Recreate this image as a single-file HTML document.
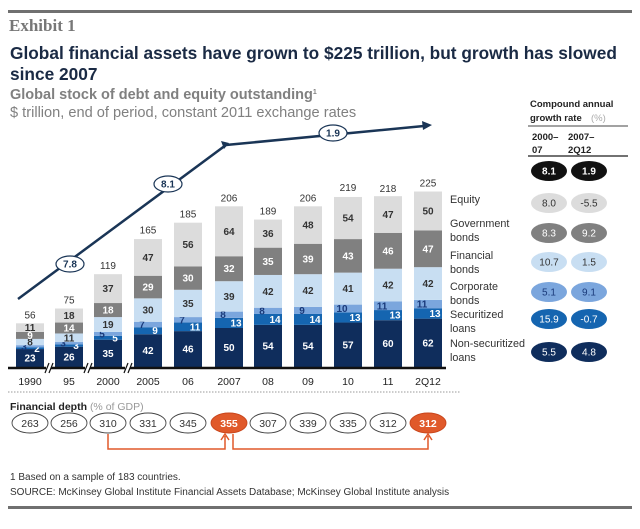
<!DOCTYPE html>
<html><head><meta charset="utf-8">
<style>
html,body{margin:0;padding:0;background:#fff;}
body{width:640px;height:524px;overflow:hidden;font-family:"Liberation Sans",Arial,sans-serif;}
svg text{font-family:"Liberation Sans",Arial,sans-serif;}
</style></head>
<body>
<svg id="chart" width="640" height="524" viewBox="0 0 640 524">
<rect x="8" y="10" width="624" height="3" fill="#707070"/>
<text x="9" y="31" font-size="17" font-weight="bold" fill="#777" style="font-family:'Liberation Serif',serif">Exhibit 1</text>
<text x="10" y="59" font-size="17.3" font-weight="bold" fill="#1a2a44">Global financial assets have grown to $225 trillion, but growth has slowed</text>
<text x="10" y="80" font-size="17.3" font-weight="bold" fill="#1a2a44">since 2007</text>
<text x="10" y="99" font-size="14.5" font-weight="bold" fill="#808080">Global stock of debt and equity outstanding<tspan font-size="7" dy="-5">1</tspan></text>
<text x="10" y="117" font-size="14.6" fill="#808080">$ trillion, end of period, constant 2011 exchange rates</text>
<g id="bars"></g>
<g id="table"></g>
<line x1="8" y1="392" x2="460" y2="392" stroke="#999" stroke-dasharray="1.5,1.5"/>
<text x="10" y="410" font-size="10.5" font-weight="bold" fill="#222">Financial depth <tspan font-weight="normal" fill="#999">(% of GDP)</tspan></text>
<g id="depth"></g>
<text x="10" y="480" font-size="10" fill="#333">1  Based on a sample of 183 countries.</text>
<text x="10" y="495" font-size="10" fill="#333">SOURCE: McKinsey Global Institute Financial Assets Database; McKinsey Global Institute analysis</text>
<rect x="8" y="506" width="624" height="3" fill="#707070"/>
</svg>
<script>
const years=["1990","95","2000","2005","06","2007","08","09","10","11","2Q12"];
const nonsec=[23,26,35,42,46,50,54,54,57,60,62];
const secur=[2,3,5,9,11,13,14,14,13,13,13];
const corp=[3,3,5,7,7,8,8,9,10,11,11];
const finb=[8,11,19,30,35,39,42,42,41,42,42];
const govb=[9,14,18,29,30,32,35,39,43,46,47];
const equity=[11,18,37,47,56,64,36,48,54,47,50];
const totals=[56,75,119,165,185,206,189,206,219,218,225];
const depth=[263,256,310,331,345,355,307,339,335,312,312];
const cagrA=[8.1,8.0,8.3,10.7,5.1,15.9,5.5];
const cagrB=[1.9,-5.5,9.2,1.5,9.1,-0.7,4.8];
const trendLabels=["7.8","8.1","1.9"];

const NS="http://www.w3.org/2000/svg";
function mk(tag,attrs,parent){const e=document.createElementNS(NS,tag);for(const k in attrs)e.setAttribute(k,attrs[k]);parent.appendChild(e);return e;}
const centers=[30,69,108,148,188,229,268,308,348,388,428];
const base=367, k=0.78, bw=28;
const xPos=i=>centers[i];
const yVal=v=>base-v*k;
const bars=document.getElementById('bars');
const series=[nonsec,secur,corp,finb,govb,equity];
const names=["nonsecuritized","securitized","corporate","financial","government","equity"];
const fills=["#0f2d5c","#1565b0","#7ba6dd","#c8def2","#808080","#dcdcdc"];
const tcol=["#fff","#fff","#1a3a7a","#333","#fff","#333"];
years.forEach((y,i)=>{
  let cum=0;
  series.forEach((s,j)=>{
    const v=s[i];const y0=yVal(cum),y1=yVal(cum+v);
    const r=mk('rect',{x:xPos(i)-bw/2,y:y1,width:bw,height:y0-y1,fill:fills[j]},bars);
    
    
    let tx=xPos(i);
    if(j==1){tx=xPos(i)+7;}
    if(j==2){tx=xPos(i)-6;}
    const t=mk('text',{x:tx,y:(y0+y1)/2+3.5,'font-size':10,'font-weight':'bold','text-anchor':'middle',fill:tcol[j]},bars);
    t.textContent=v;
    
    
    cum+=v;
  });
  const tt=mk('text',{x:xPos(i),y:yVal(totals[i])-5,'font-size':10,'text-anchor':'middle',fill:'#333'},bars);
  tt.textContent=totals[i];
  
  
  const yl=mk('text',{x:xPos(i),y:385,'font-size':10.5,'text-anchor':'middle',fill:'#222'},bars);
  yl.textContent=y;
  
  
});
const ax=mk('line',{x1:8,y1:base+1,x2:446,y2:base+1,stroke:'#111','stroke-width':2.5},bars);


[49,88,128].forEach(x=>{
  const g=mk('rect',{x:x-3,y:base-3,width:5,height:8,fill:'#fff'},bars);
  
  
  const b=mk('path',{d:`M${x-4},${base+6}L${x},${base-4}M${x},${base+6}L${x+4},${base-4}`,stroke:'#111','stroke-width':1.2,fill:'none'},bars);
  
  
});
const tl=mk('path',{d:'M18,299L226,145L424,126',stroke:'#1a3556','stroke-width':2.5,fill:'none'},bars);


const ah=mk('path',{d:'M432,125L422,121L423,130Z',fill:'#1a3556'},bars);


const ak=mk('path',{d:'M229,143L221,141L224,149Z',fill:'#1a3556'},bars);


[[70,264],[168,184],[333,133]].forEach((p,i)=>{
  const e=mk('ellipse',{cx:p[0],cy:p[1],rx:14,ry:8,fill:'#fff',stroke:'#1a3556','stroke-width':1.2},bars);
  
  
  const t=mk('text',{x:p[0],y:p[1]+3.5,'font-size':10,'font-weight':'bold','text-anchor':'middle',fill:'#1a3556'},bars);
  t.textContent=trendLabels[i];
  
  
});
const legend=[["Equity"],["Government","bonds"],["Financial","bonds"],["Corporate","bonds"],["Securitized","loans"],["Non-securitized","loans"]];
const legY=[203,227,259,290,318,347];
legend.forEach((l,i)=>{
  l.forEach((s,m)=>{
    const t=mk('text',{x:450,y:legY[i]+m*14,'font-size':10.8,fill:'#333'},bars);
    t.textContent=s;
    
    
  });
});
const tb=document.getElementById('table');
const hdr=[["Compound annual",530,107],["growth rate",530,121],["2000–",532,140],["07",532,153],["2007–",568,140],["2Q12",568,153]];
hdr.forEach(h=>{const t=mk('text',{x:h[1],y:h[2],'font-size':9.5,'font-weight':'bold',fill:'#222'},tb);t.textContent=h[0];
  });
const pct=mk('text',{x:591,y:121,'font-size':9.5,fill:'#aaa'},tb);pct.textContent='(%)';


const r1=mk('line',{x1:528,y1:126,x2:628,y2:126,stroke:'#444','stroke-width':1},tb);


const r2=mk('line',{x1:528,y1:156,x2:628,y2:156,stroke:'#444','stroke-width':1.5},tb);


const rowY=[171,203,233,262,292,319,352];
const ovF=["#111","#dcdcdc","#808080","#c8def2","#7ba6dd","#1565b0","#0f2d5c"];
const ovT=["#fff","#333","#fff","#333","#1a3a7a","#fff","#fff"];
rowY.forEach((ry,i)=>{
  [[549,cagrA[i]],[589,cagrB[i]]].forEach(c=>{
    const e=mk('ellipse',{cx:c[0],cy:ry,rx:18,ry:10,fill:ovF[i]},tb);
    
    
    const t=mk('text',{x:c[0],y:ry+3.5,'font-size':10,'text-anchor':'middle',fill:ovT[i],'font-weight':i==0?'bold':'normal'},tb);
    t.textContent=c[1].toFixed(1);
    
    
  });
});
const dp=document.getElementById('depth');
depth.forEach((d,i)=>{
  const hi=(i==5||i==10);
  const e=mk('ellipse',{cx:xPos(i),cy:423,rx:18,ry:10,fill:hi?'#e0592a':'#fff',stroke:hi?'#c9461c':'#444','stroke-width':0.9},dp);
  
  
  const t=mk('text',{x:xPos(i),y:427,'font-size':10.5,'text-anchor':'middle',fill:hi?'#fff':'#333','font-weight':hi?'bold':'normal'},dp);
  t.textContent=d;
  
  
});
const a1=mk('path',{d:`M${xPos(2)},434V449H${xPos(5)-4}V436M${xPos(5)-8},440L${xPos(5)-4},434L${xPos(5)},440`,stroke:'#e0592a','stroke-width':1.5,fill:'none'},dp);


const a2=mk('path',{d:`M${xPos(5)+4},434V449H${xPos(10)}V436M${xPos(10)-4},440L${xPos(10)},434L${xPos(10)+4},440`,stroke:'#e0592a','stroke-width':1.5,fill:'none'},dp);


</script>
</body></html>
